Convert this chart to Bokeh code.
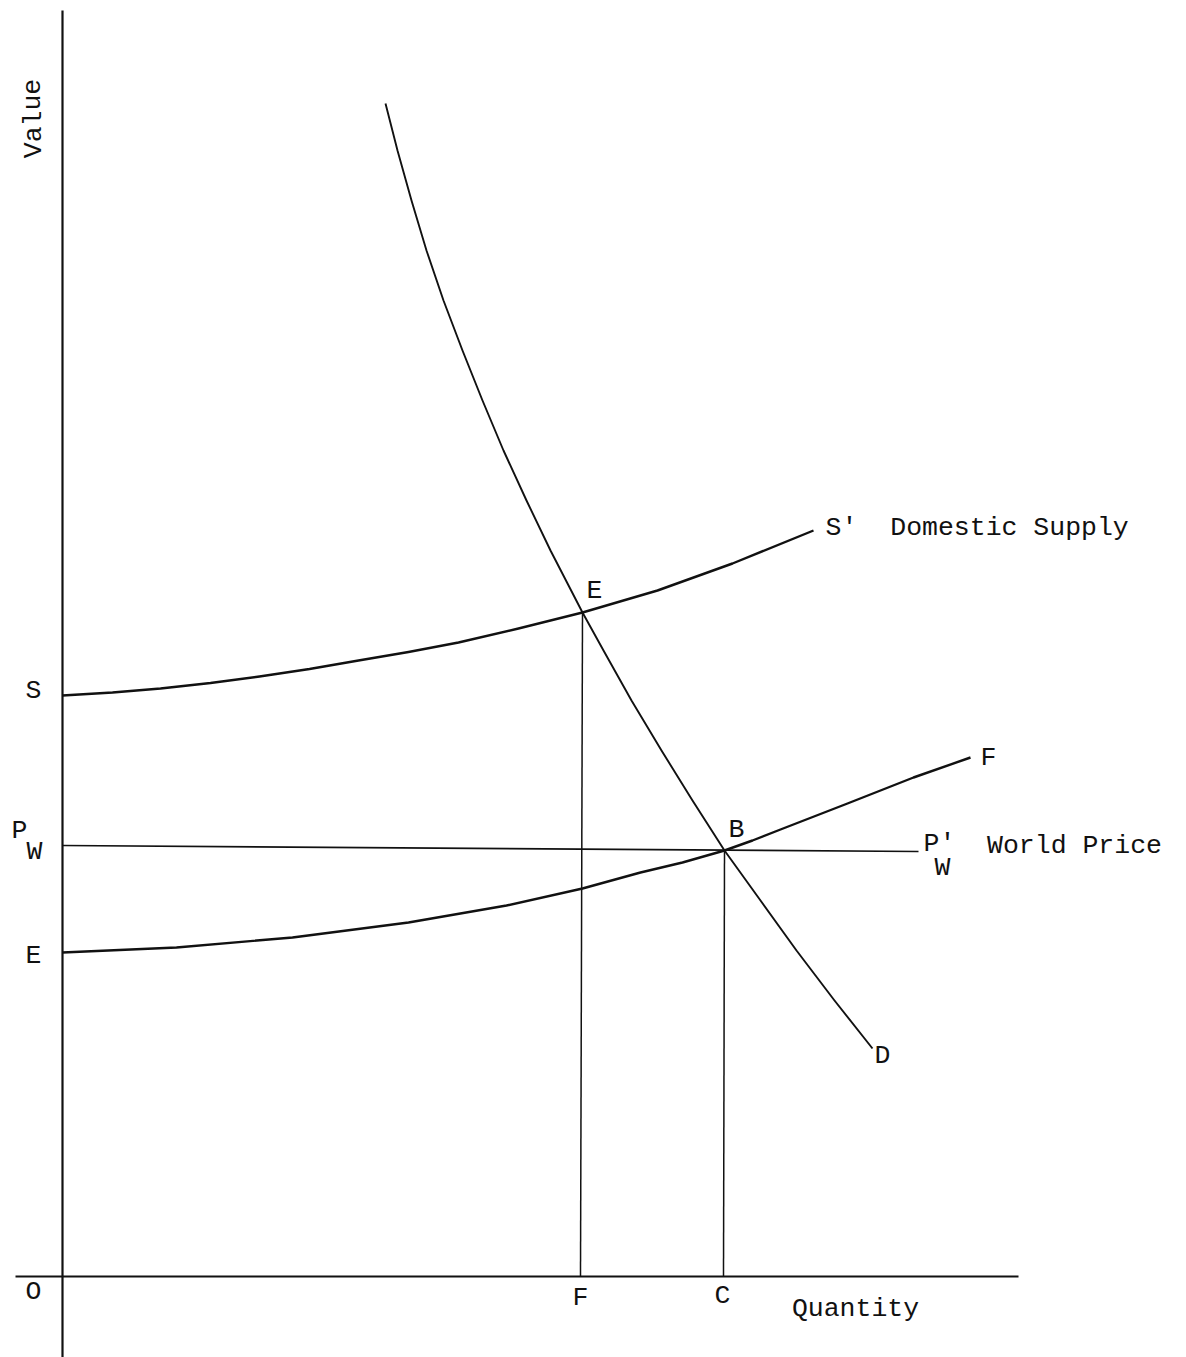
import math
from bokeh.plotting import figure
from bokeh.models import Range1d, ColumnDataSource
from bokeh.core.properties import value
from bokeh.embed import file_html
from bokeh.resources import INLINE

# ---- data (quantity, value) ----
demand_q = [32.3, 33.5, 34.9, 36.4, 38.1, 40.0, 42.0, 44.1, 46.4, 48.8, 52.0,
            54.1, 56.9, 59.9, 63.0, 66.2, 69.8, 73.4, 77.2, 81.0]
demand_v = [117.3, 112.6, 107.6, 102.6, 97.6, 92.6, 87.6, 82.6, 77.6, 72.6, 66.4,
            62.6, 57.6, 52.6, 47.6, 42.6, 37.6, 32.6, 27.6, 22.8]

dom_supply_q = [0.0, 5.0, 9.8, 14.8, 19.7, 24.7, 29.6, 34.6, 39.6, 45.6, 52.0, 59.5, 67.0, 75.1]
dom_supply_v = [58.1, 58.4, 58.8, 59.35, 60.0, 60.75, 61.6, 62.45, 63.4, 64.8, 66.4, 68.6, 71.3, 74.6]

for_supply_q = [0.0, 11.4, 23.0, 34.6, 44.4, 52.0, 57.8, 62.0, 66.2, 69.0, 71.8, 78.5, 85.1, 90.8]
for_supply_v = [32.4, 32.9, 33.9, 35.4, 37.1, 38.8, 40.4, 41.4, 42.6, 43.6, 44.7, 47.3, 49.9, 51.9]

world_price_q = [0.0, 85.6]
world_price_v = [43.1, 42.5]

# equilibrium points: E (domestic), B (with trade)
eq_q = [52.0, 66.2]
eq_v = [66.4, 42.6]
eq_q_base = [51.8, 66.1]

# axis extents
x_axis_q = [-4.7, 95.6]
y_axis_v = [-8.2, 126.6]

# ---- labels ----
label_text = ["Value", "S", "P", "W", "E", "O", "F", "C", "Quantity",
              "S'", "Domestic Supply", "E", "F", "B", "P'", "W", "World Price", "D"]
label_x = [-2.9, -2.9, -4.3, -2.8, -2.9, -2.9, 51.8, 66.0, 79.3,
           77.9, 94.7, 53.2, 92.6, 67.4, 87.7, 88.0, 101.2, 82.0]
label_y = [115.8, 58.6, 44.6, 42.5, 32.1, -1.5, -2.1, -1.9, -3.2,
           74.9, 74.9, 68.6, 51.9, 44.7, 43.3, 40.9, 43.1, 22.1]
label_angle = [math.pi / 2] + [0.0] * (len(label_text) - 1)

W, H = 1178, 1357
p = figure(width=W, height=H, output_backend="svg", toolbar_location=None,
           x_range=Range1d(-6.2, 111.6), y_range=Range1d(-8.1, 127.6),
           x_axis_location=None, y_axis_location=None, min_border=0)
p.grid.visible = False
p.outline_line_color = None
p.background_fill_color = "white"
p.border_fill_color = "white"

ink = "#111111"

# axes
p.line(x_axis_q, [0, 0], line_color=ink, line_width=2.2)
p.line([0, 0], y_axis_v, line_color=ink, line_width=2.2)

# curves
p.line(demand_q, demand_v, line_color=ink, line_width=1.9, line_join="round")
p.line(dom_supply_q, dom_supply_v, line_color=ink, line_width=2.4, line_join="round")
p.line(for_supply_q, for_supply_v, line_color=ink, line_width=2.4, line_join="round")
p.line(world_price_q, world_price_v, line_color=ink, line_width=1.6)

# drop lines
p.segment(x0=eq_q, y0=eq_v, x1=eq_q_base, y1=[0, 0], line_color=ink, line_width=1.5)

src = ColumnDataSource(dict(x=label_x, y=label_y, t=label_text, a=label_angle))
p.text(x="x", y="y", text="t", angle="a", source=src,
       text_font=value("Liberation Mono"), text_font_size="26.5px",
       text_align="center", text_baseline="middle", text_color=ink)

open("out.html", "w").write(file_html(p, INLINE))
